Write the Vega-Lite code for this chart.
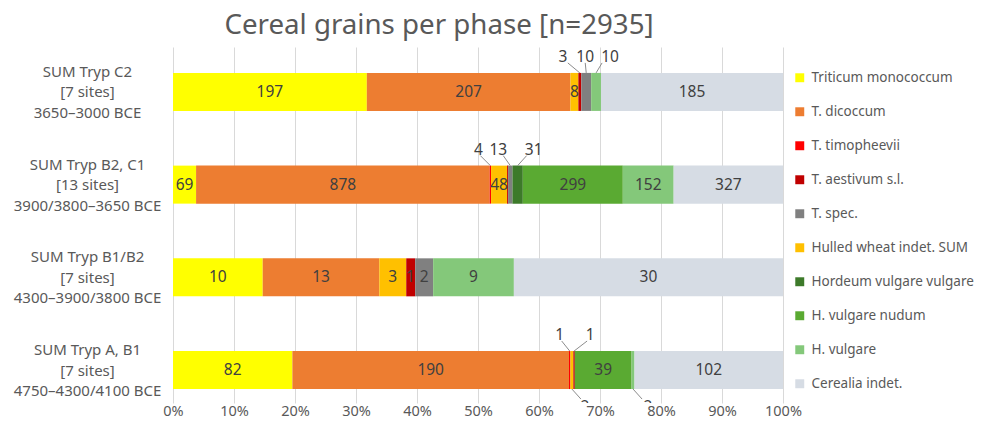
{
  "$schema": "https://vega.github.io/schema/vega-lite/v6.json",
  "width": 610,
  "height": 356,
  "autosize": {"type": "none"},
  "padding": {"left": 173, "top": 47, "right": 208, "bottom": 24},
  "background": "white",
  "config": {
    "font": "Noto Sans",
    "view": {"stroke": null},
    "axis": {"labelFont": "Noto Sans", "labelColor": "#595959"},
    "legend": {"labelFont": "Noto Sans"},
    "text": {"font": "Noto Sans"}
  },
  "title": {
    "text": "Cereal grains per phase [n=2935]",
    "font": "Noto Sans",
    "fontSize": 27.7,
    "fontWeight": "normal",
    "color": "#595959",
    "anchor": "middle",
    "dx": -39,
    "offset": 7
  },
  "data": {
    "values": [
      {"phase": "SUM Tryp C2|[7 sites]|3650–3000 BCE", "species": "Triticum monococcum", "grains": 197},
      {"phase": "SUM Tryp C2|[7 sites]|3650–3000 BCE", "species": "T. dicoccum", "grains": 207},
      {"phase": "SUM Tryp C2|[7 sites]|3650–3000 BCE", "species": "Hulled wheat indet. SUM", "grains": 8},
      {"phase": "SUM Tryp C2|[7 sites]|3650–3000 BCE", "species": "T. aestivum s.l.", "grains": 3},
      {"phase": "SUM Tryp C2|[7 sites]|3650–3000 BCE", "species": "T. spec.", "grains": 10},
      {"phase": "SUM Tryp C2|[7 sites]|3650–3000 BCE", "species": "H. vulgare", "grains": 10},
      {"phase": "SUM Tryp C2|[7 sites]|3650–3000 BCE", "species": "Cerealia indet.", "grains": 185},
      {"phase": "SUM Tryp B2, C1|[13 sites]|3900/3800–3650 BCE", "species": "Triticum monococcum", "grains": 69},
      {"phase": "SUM Tryp B2, C1|[13 sites]|3900/3800–3650 BCE", "species": "T. dicoccum", "grains": 878},
      {"phase": "SUM Tryp B2, C1|[13 sites]|3900/3800–3650 BCE", "species": "T. timopheevii", "grains": 4},
      {"phase": "SUM Tryp B2, C1|[13 sites]|3900/3800–3650 BCE", "species": "Hulled wheat indet. SUM", "grains": 48},
      {"phase": "SUM Tryp B2, C1|[13 sites]|3900/3800–3650 BCE", "species": "T. aestivum s.l.", "grains": 3},
      {"phase": "SUM Tryp B2, C1|[13 sites]|3900/3800–3650 BCE", "species": "T. spec.", "grains": 13},
      {"phase": "SUM Tryp B2, C1|[13 sites]|3900/3800–3650 BCE", "species": "Hordeum vulgare vulgare", "grains": 31},
      {"phase": "SUM Tryp B2, C1|[13 sites]|3900/3800–3650 BCE", "species": "H. vulgare nudum", "grains": 299},
      {"phase": "SUM Tryp B2, C1|[13 sites]|3900/3800–3650 BCE", "species": "H. vulgare", "grains": 152},
      {"phase": "SUM Tryp B2, C1|[13 sites]|3900/3800–3650 BCE", "species": "Cerealia indet.", "grains": 327},
      {"phase": "SUM Tryp B1/B2|[7 sites]|4300–3900/3800 BCE", "species": "Triticum monococcum", "grains": 10},
      {"phase": "SUM Tryp B1/B2|[7 sites]|4300–3900/3800 BCE", "species": "T. dicoccum", "grains": 13},
      {"phase": "SUM Tryp B1/B2|[7 sites]|4300–3900/3800 BCE", "species": "Hulled wheat indet. SUM", "grains": 3},
      {"phase": "SUM Tryp B1/B2|[7 sites]|4300–3900/3800 BCE", "species": "T. aestivum s.l.", "grains": 1},
      {"phase": "SUM Tryp B1/B2|[7 sites]|4300–3900/3800 BCE", "species": "T. spec.", "grains": 2},
      {"phase": "SUM Tryp B1/B2|[7 sites]|4300–3900/3800 BCE", "species": "H. vulgare", "grains": 9},
      {"phase": "SUM Tryp B1/B2|[7 sites]|4300–3900/3800 BCE", "species": "Cerealia indet.", "grains": 30},
      {"phase": "SUM Tryp A, B1|[7 sites]|4750–4300/4100 BCE", "species": "Triticum monococcum", "grains": 82},
      {"phase": "SUM Tryp A, B1|[7 sites]|4750–4300/4100 BCE", "species": "T. dicoccum", "grains": 190},
      {"phase": "SUM Tryp A, B1|[7 sites]|4750–4300/4100 BCE", "species": "T. timopheevii", "grains": 1},
      {"phase": "SUM Tryp A, B1|[7 sites]|4750–4300/4100 BCE", "species": "Hulled wheat indet. SUM", "grains": 2},
      {"phase": "SUM Tryp A, B1|[7 sites]|4750–4300/4100 BCE", "species": "T. aestivum s.l.", "grains": 1},
      {"phase": "SUM Tryp A, B1|[7 sites]|4750–4300/4100 BCE", "species": "H. vulgare nudum", "grains": 39},
      {"phase": "SUM Tryp A, B1|[7 sites]|4750–4300/4100 BCE", "species": "H. vulgare", "grains": 2},
      {"phase": "SUM Tryp A, B1|[7 sites]|4750–4300/4100 BCE", "species": "Cerealia indet.", "grains": 102}
    ]
  },
  "transform": [
    {"calculate": "indexof(['Triticum monococcum','T. dicoccum','T. timopheevii','Hulled wheat indet. SUM','T. aestivum s.l.','T. spec.','Hordeum vulgare vulgare','H. vulgare nudum','H. vulgare','Cerealia indet.'], datum.species)", "as": "ord"},
    {"stack": "grains", "groupby": ["phase"], "sort": [{"field": "ord", "order": "ascending"}], "offset": "normalize", "as": ["x0", "x1"]},
    {"calculate": "(datum.x0 + datum.x1) / 2", "as": "mid"}
  ],
  "encoding": {
    "y": {
      "field": "phase",
      "type": "nominal",
      "sort": ["SUM Tryp C2|[7 sites]|3650–3000 BCE", "SUM Tryp B2, C1|[13 sites]|3900/3800–3650 BCE", "SUM Tryp B1/B2|[7 sites]|4300–3900/3800 BCE", "SUM Tryp A, B1|[7 sites]|4750–4300/4100 BCE"],
      "scale": {"paddingInner": 0.59, "paddingOuter": 0.215, "align": 0.65},
      "axis": {
        "title": null,
        "domain": false,
        "ticks": false,
        "grid": false,
        "labelExpr": "split(datum.label, '|')",
        "labelAlign": "center",
        "labelBaseline": "middle",
        "labelPadding": 86,
        "labelOffset": -20,
        "labelFontSize": 15,
        "labelLineHeight": 20.5,
        "labelColor": "#595959"
      }
    }
  },
  "layer": [
    {
      "mark": {"type": "bar"},
      "encoding": {
        "x": {
          "field": "x0",
          "type": "quantitative",
          "scale": {"domain": [0, 1]},
          "axis": {
            "title": null,
            "format": ".0%",
            "values": [0, 0.1, 0.2, 0.3, 0.4, 0.5, 0.6, 0.7, 0.8, 0.9, 1],
            "domain": false,
            "ticks": false,
            "grid": true,
            "gridColor": "#D9D9D9",
            "gridWidth": 1,
            "labelFontSize": 14.5,
            "labelPadding": 1,
            "labelColor": "#595959",
            "labelFlush": false
          }
        },
        "x2": {"field": "x1"},
        "color": {
          "field": "species",
          "type": "nominal",
          "scale": {
            "domain": ["Triticum monococcum", "T. dicoccum", "T. timopheevii", "T. aestivum s.l.", "T. spec.", "Hulled wheat indet. SUM", "Hordeum vulgare vulgare", "H. vulgare nudum", "H. vulgare", "Cerealia indet."],
            "range": ["#FFFF00", "#ED7D31", "#FF0000", "#C00000", "#808080", "#FFC000", "#3D7A2A", "#5AAA32", "#84C87A", "#D6DCE4"]
          },
          "legend": {
            "title": null,
            "orient": "none",
            "legendX": 620,
            "legendY": 24,
            "padding": 0,
            "symbolType": "square",
            "symbolSize": 80,
            "symbolStrokeWidth": 0,
            "labelFontSize": 13.5,
            "labelColor": "#595959",
            "labelOffset": 5,
            "rowPadding": 19,
            "labelLimit": 200
          }
        }
      }
    },
    {
      "transform": [{"filter": "!((indexof(datum.phase,'Tryp C2')>=0 && indexof(['T. aestivum s.l.','T. spec.','H. vulgare'], datum.species)>=0) || (indexof(datum.phase,'B2, C1')>=0 && indexof(['T. timopheevii','T. aestivum s.l.','T. spec.','Hordeum vulgare vulgare'], datum.species)>=0) || (indexof(datum.phase,'A, B1')>=0 && indexof(['T. timopheevii','Hulled wheat indet. SUM','T. aestivum s.l.','H. vulgare'], datum.species)>=0))"}],
      "mark": {"type": "text", "fontSize": 15.5, "color": "#404040", "baseline": "middle"},
      "encoding": {"x": {"field": "mid", "type": "quantitative"}, "text": {"field": "grains", "type": "quantitative"}}
    },
    {
      "transform": [{"filter": "indexof(datum.phase,'Tryp C2')>=0 && datum.species==='T. aestivum s.l.'"}],
      "mark": {"type": "text", "fontSize": 15.5, "color": "#404040", "baseline": "middle", "dx": -17, "dy": -35},
      "encoding": {"x": {"field": "mid", "type": "quantitative"}, "text": {"field": "grains", "type": "quantitative"}}
    },
    {
      "transform": [{"filter": "indexof(datum.phase,'Tryp C2')>=0 && datum.species==='T. aestivum s.l.'"}],
      "mark": {"type": "rule", "color": "#8C8C8C", "strokeWidth": 1, "xOffset": -12, "yOffset": -29, "x2Offset": 0, "y2Offset": -19},
      "encoding": {"x": {"field": "mid", "type": "quantitative"}, "x2": {"field": "mid"}, "y2": {"field": "phase"}}
    },
    {
      "transform": [{"filter": "indexof(datum.phase,'Tryp C2')>=0 && datum.species==='T. spec.'"}],
      "mark": {"type": "text", "fontSize": 15.5, "color": "#404040", "baseline": "middle", "dx": -1, "dy": -35},
      "encoding": {"x": {"field": "mid", "type": "quantitative"}, "text": {"field": "grains", "type": "quantitative"}}
    },
    {
      "transform": [{"filter": "indexof(datum.phase,'Tryp C2')>=0 && datum.species==='T. spec.'"}],
      "mark": {"type": "rule", "color": "#8C8C8C", "strokeWidth": 1, "xOffset": -1, "yOffset": -29, "x2Offset": 0, "y2Offset": -19},
      "encoding": {"x": {"field": "mid", "type": "quantitative"}, "x2": {"field": "mid"}, "y2": {"field": "phase"}}
    },
    {
      "transform": [{"filter": "indexof(datum.phase,'Tryp C2')>=0 && datum.species==='H. vulgare'"}],
      "mark": {"type": "text", "fontSize": 15.5, "color": "#404040", "baseline": "middle", "dx": 14, "dy": -35},
      "encoding": {"x": {"field": "mid", "type": "quantitative"}, "text": {"field": "grains", "type": "quantitative"}}
    },
    {
      "transform": [{"filter": "indexof(datum.phase,'Tryp C2')>=0 && datum.species==='H. vulgare'"}],
      "mark": {"type": "rule", "color": "#8C8C8C", "strokeWidth": 1, "xOffset": 6, "yOffset": -29, "x2Offset": 0, "y2Offset": -19},
      "encoding": {"x": {"field": "mid", "type": "quantitative"}, "x2": {"field": "mid"}, "y2": {"field": "phase"}}
    },
    {
      "transform": [{"filter": "indexof(datum.phase,'B2, C1')>=0 && datum.species==='T. timopheevii'"}],
      "mark": {"type": "text", "fontSize": 15.5, "color": "#404040", "baseline": "middle", "dx": -12, "dy": -35},
      "encoding": {"x": {"field": "mid", "type": "quantitative"}, "text": {"field": "grains", "type": "quantitative"}}
    },
    {
      "transform": [{"filter": "indexof(datum.phase,'B2, C1')>=0 && datum.species==='T. timopheevii'"}],
      "mark": {"type": "rule", "color": "#8C8C8C", "strokeWidth": 1, "xOffset": -10, "yOffset": -29, "x2Offset": 0, "y2Offset": -19},
      "encoding": {"x": {"field": "mid", "type": "quantitative"}, "x2": {"field": "mid"}, "y2": {"field": "phase"}}
    },
    {
      "transform": [{"filter": "indexof(datum.phase,'B2, C1')>=0 && datum.species==='T. spec.'"}],
      "mark": {"type": "text", "fontSize": 15.5, "color": "#404040", "baseline": "middle", "dx": -12, "dy": -35},
      "encoding": {"x": {"field": "mid", "type": "quantitative"}, "text": {"field": "grains", "type": "quantitative"}}
    },
    {
      "transform": [{"filter": "indexof(datum.phase,'B2, C1')>=0 && datum.species==='T. spec.'"}],
      "mark": {"type": "rule", "color": "#8C8C8C", "strokeWidth": 1, "xOffset": -7, "yOffset": -29, "x2Offset": 0, "y2Offset": -19},
      "encoding": {"x": {"field": "mid", "type": "quantitative"}, "x2": {"field": "mid"}, "y2": {"field": "phase"}}
    },
    {
      "transform": [{"filter": "indexof(datum.phase,'B2, C1')>=0 && datum.species==='Hordeum vulgare vulgare'"}],
      "mark": {"type": "text", "fontSize": 15.5, "color": "#404040", "baseline": "middle", "dx": 16, "dy": -35},
      "encoding": {"x": {"field": "mid", "type": "quantitative"}, "text": {"field": "grains", "type": "quantitative"}}
    },
    {
      "transform": [{"filter": "indexof(datum.phase,'B2, C1')>=0 && datum.species==='Hordeum vulgare vulgare'"}],
      "mark": {"type": "rule", "color": "#8C8C8C", "strokeWidth": 1, "xOffset": 9, "yOffset": -29, "x2Offset": 0, "y2Offset": -19},
      "encoding": {"x": {"field": "mid", "type": "quantitative"}, "x2": {"field": "mid"}, "y2": {"field": "phase"}}
    },
    {
      "transform": [{"filter": "indexof(datum.phase,'A, B1')>=0 && datum.species==='T. timopheevii'"}],
      "mark": {"type": "text", "fontSize": 15.5, "color": "#404040", "baseline": "middle", "dx": -10, "dy": -35},
      "encoding": {"x": {"field": "mid", "type": "quantitative"}, "text": {"field": "grains", "type": "quantitative"}}
    },
    {
      "transform": [{"filter": "indexof(datum.phase,'A, B1')>=0 && datum.species==='T. timopheevii'"}],
      "mark": {"type": "rule", "color": "#8C8C8C", "strokeWidth": 1, "xOffset": -8, "yOffset": -29, "x2Offset": 0, "y2Offset": -19},
      "encoding": {"x": {"field": "mid", "type": "quantitative"}, "x2": {"field": "mid"}, "y2": {"field": "phase"}}
    },
    {
      "transform": [{"filter": "indexof(datum.phase,'A, B1')>=0 && datum.species==='T. aestivum s.l.'"}],
      "mark": {"type": "text", "fontSize": 15.5, "color": "#404040", "baseline": "middle", "dx": 16, "dy": -35},
      "encoding": {"x": {"field": "mid", "type": "quantitative"}, "text": {"field": "grains", "type": "quantitative"}}
    },
    {
      "transform": [{"filter": "indexof(datum.phase,'A, B1')>=0 && datum.species==='T. aestivum s.l.'"}],
      "mark": {"type": "rule", "color": "#8C8C8C", "strokeWidth": 1, "xOffset": 13, "yOffset": -29, "x2Offset": 0, "y2Offset": -19},
      "encoding": {"x": {"field": "mid", "type": "quantitative"}, "x2": {"field": "mid"}, "y2": {"field": "phase"}}
    },
    {
      "transform": [{"filter": "indexof(datum.phase,'A, B1')>=0 && datum.species==='Hulled wheat indet. SUM'"}],
      "mark": {"type": "text", "fontSize": 15.5, "color": "#404040", "baseline": "middle", "dx": 13, "dy": 37, "clip": true},
      "encoding": {"x": {"field": "mid", "type": "quantitative"}, "text": {"field": "grains", "type": "quantitative"}}
    },
    {
      "transform": [{"filter": "indexof(datum.phase,'A, B1')>=0 && datum.species==='Hulled wheat indet. SUM'"}],
      "mark": {"type": "rule", "color": "#8C8C8C", "strokeWidth": 1, "xOffset": 0, "yOffset": 19, "x2Offset": 9, "y2Offset": 29},
      "encoding": {"x": {"field": "mid", "type": "quantitative"}, "x2": {"field": "mid"}, "y2": {"field": "phase"}}
    },
    {
      "transform": [{"filter": "indexof(datum.phase,'A, B1')>=0 && datum.species==='H. vulgare'"}],
      "mark": {"type": "text", "fontSize": 15.5, "color": "#404040", "baseline": "middle", "dx": 15, "dy": 37, "clip": true},
      "encoding": {"x": {"field": "mid", "type": "quantitative"}, "text": {"field": "grains", "type": "quantitative"}}
    },
    {
      "transform": [{"filter": "indexof(datum.phase,'A, B1')>=0 && datum.species==='H. vulgare'"}],
      "mark": {"type": "rule", "color": "#8C8C8C", "strokeWidth": 1, "xOffset": 0, "yOffset": 19, "x2Offset": 9, "y2Offset": 29},
      "encoding": {"x": {"field": "mid", "type": "quantitative"}, "x2": {"field": "mid"}, "y2": {"field": "phase"}}
    }
  ]
}
